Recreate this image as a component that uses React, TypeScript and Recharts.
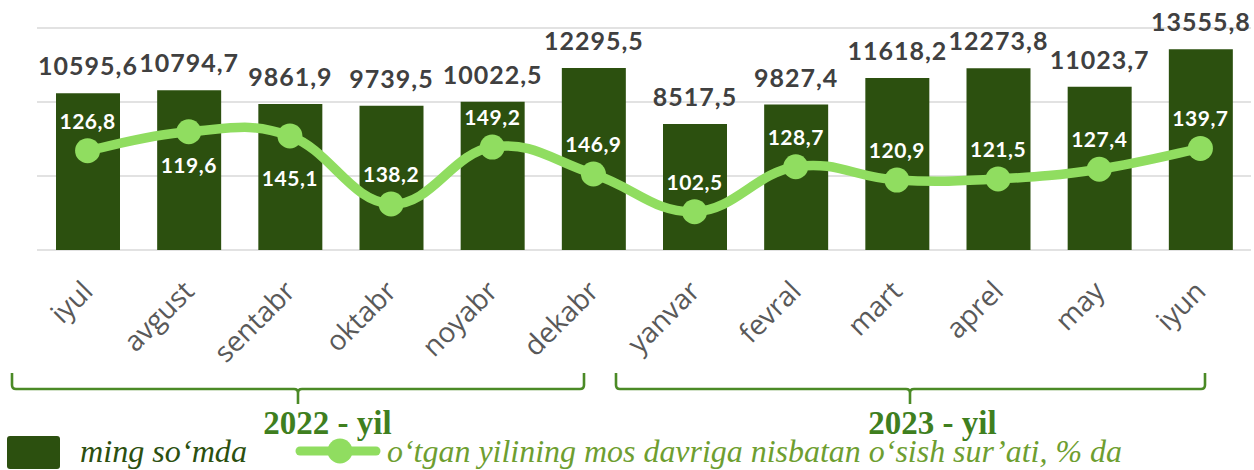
import React from "react";
import {
  ComposedChart,
  Bar,
  Line,
  XAxis,
  YAxis,
  CartesianGrid,
  LabelList,
} from "recharts";

// ---- data ----
const months = [
  "iyul", "avgust", "sentabr", "oktabr", "noyabr", "dekabr",
  "yanvar", "fevral", "mart", "aprel", "may", "iyun",
];
// ming so'mda (bars)
const amounts = [
  10595.6, 10794.7, 9861.9, 9739.5, 10022.5, 12295.5,
  8517.5, 9827.4, 11618.2, 12273.8, 11023.7, 13555.8,
];
// growth-rate data labels (% da), as printed
const growthLabels = [
  "126,8", "119,6", "145,1", "138,2", "149,2", "146,9",
  "102,5", "128,7", "120,9", "121,5", "127,4", "139,7",
];
// line level on the hidden secondary axis
const growthLevel = [
  115.8, 122.6, 121.1, 96.6, 117.1, 107.4,
  93.8, 110.0, 105.2, 105.6, 109.1, 116.6,
];
const barTicks = [0, 5000, 10000, 15000];
const yearGroups = ["2022 - yil", "2023 - yil"];

const data = months.map((m, i) => ({
  month: m,
  amount: amounts[i],
  level: growthLevel[i],
  label: growthLabels[i],
}));

// ---- styles ----
const BAR = "#2C500F";
const LINE = "#90DD60";
const GRID = "#D9D9D9";
const BRACKET = "#4B8A26";
const YEAR = "#3F7F1F";
const LEGEND2 = "#6E9E30";
const SANS = "Lato, 'Open Sans', sans-serif";
const SERIF = "'Liberation Serif', 'DejaVu Serif', serif";

// Excel-like smoothed line (cardinal spline)
const smoothCurve = (context: any) => {
  let pts: number[][] = [];
  const k = 0.2;
  return {
    areaStart() {},
    areaEnd() {},
    lineStart() {
      pts = [];
    },
    lineEnd() {
      const n = pts.length;
      if (!n) return;
      context.moveTo(pts[0][0], pts[0][1]);
      for (let i = 0; i < n - 1; i++) {
        const p0 = pts[i - 1] || pts[i];
        const p1 = pts[i];
        const p2 = pts[i + 1];
        const p3 = pts[i + 2] || p2;
        context.bezierCurveTo(
          p1[0] + (p2[0] - p0[0]) * k,
          p1[1] + (p2[1] - p0[1]) * k,
          p2[0] - (p3[0] - p1[0]) * k,
          p2[1] - (p3[1] - p1[1]) * k,
          p2[0],
          p2[1]
        );
      }
    },
    point(x: number, y: number) {
      pts.push([+x, +y]);
    },
  };
};

const fmt = (v: number) => v.toFixed(1).replace(".", ",");

const BarValueLabel = (props: any) => {
  const { x, y, width, value } = props;
  return (
    <text
      x={x + width / 2}
      y={y - 18}
      textAnchor="middle"
      fill="#404040"
      fontFamily={SANS}
      fontWeight={700}
      fontSize={25}
      letterSpacing={1}
    >
      {fmt(value)}
    </text>
  );
};

const belowOffsets: Record<number, number> = { 1: 41, 2: 50 };

const LineValueLabel = (props: any) => {
  const { x, y, value, index } = props;
  const below = belowOffsets[index];
  const ty = below !== undefined ? y + below : y - 22;
  return (
    <text
      x={x}
      y={ty}
      textAnchor="middle"
      fill="#FFFFFF"
      fontFamily={SANS}
      fontWeight={700}
      fontSize={21}
      letterSpacing={0.5}
    >
      {value}
    </text>
  );
};

const MonthTick = (props: any) => {
  const { x, payload } = props;
  const ax = x + 7;
  const ay = 293;
  return (
    <text
      x={ax}
      y={ay}
      textAnchor="end"
      fill="#595959"
      fontFamily="'Open Sans', sans-serif"
      fontSize={28}
      transform={`rotate(-45, ${ax}, ${ay})`}
    >
      {payload.value}
    </text>
  );
};

const Bracket = ({ x1, x2, mid }: { x1: number; x2: number; mid: number }) => (
  <path
    d={`M${x1},373 V385 Q${x1},389 ${x1 + 4},389 H${mid - 4} Q${mid},389 ${mid},393 V404 M${mid},393 Q${mid},389 ${mid + 4},389 H${x2 - 4} Q${x2},389 ${x2},385 V373`}
    fill="none"
    stroke={BRACKET}
    strokeWidth={2.6}
  />
);

export default function App() {
  return (
    <div style={{ position: "absolute", left: 0, top: 0, width: 1254, height: 470, background: "#fff" }}>
      <ComposedChart
        width={1254}
        height={470}
        data={data}
        margin={{ top: 28, right: 3, left: 37, bottom: 100 }}
      >
        <CartesianGrid vertical={false} stroke={GRID} strokeWidth={1.4} yAxisId="left" />
        <XAxis
          dataKey="month"
          axisLine={false}
          tickLine={false}
          height={120}
          interval={0}
          tick={<MonthTick />}
        />
        <YAxis yAxisId="left" hide domain={[0, 15000]} ticks={barTicks} />
        <YAxis yAxisId="right" orientation="right" hide domain={[80, 160]} />
        <Bar yAxisId="left" dataKey="amount" fill={BAR} barSize={64} isAnimationActive={false}>
          <LabelList dataKey="amount" content={<BarValueLabel />} />
        </Bar>
        <Line
          yAxisId="right"
          dataKey="level"
          type={smoothCurve as any}
          stroke={LINE}
          strokeWidth={9.5}
          dot={{ r: 12.5, fill: LINE, stroke: LINE, strokeWidth: 0 }}
          activeDot={false}
          isAnimationActive={false}
        >
          <LabelList dataKey="label" content={<LineValueLabel />} />
        </Line>
      </ComposedChart>
      <svg
        width={1254}
        height={470}
        style={{ position: "absolute", left: 0, top: 0, pointerEvents: "none" }}
      >
        <Bracket x1={12} x2={584} mid={298} />
        <Bracket x1={616} x2={1205} mid={910} />
        <text x={327.5} y={434} textAnchor="middle" fill={YEAR} fontFamily={SERIF} fontWeight={700} fontSize={33}>
          {yearGroups[0]}
        </text>
        <text x={932.5} y={434} textAnchor="middle" fill={YEAR} fontFamily={SERIF} fontWeight={700} fontSize={33}>
          {yearGroups[1]}
        </text>
        <rect x={7} y={436} width={53} height={33} rx={3} fill={BAR} />
        <text
          x={80}
          y={462}
          fill={BAR}
          fontFamily={SERIF}
          fontStyle="italic"
          fontSize={31}
          textLength={167}
          lengthAdjust="spacingAndGlyphs"
        >
          ming so‘mda
        </text>
        <line x1={300} y1={451} x2={376} y2={451} stroke={LINE} strokeWidth={9} strokeLinecap="round" />
        <circle cx={340} cy={451} r={12.5} fill={LINE} />
        <text
          x={387}
          y={462}
          fill={LEGEND2}
          fontFamily={SERIF}
          fontStyle="italic"
          fontSize={31}
          textLength={735}
          lengthAdjust="spacingAndGlyphs"
        >
          o‘tgan yilining mos davriga nisbatan o‘sish sur’ati, % da
        </text>
      </svg>
    </div>
  );
}
